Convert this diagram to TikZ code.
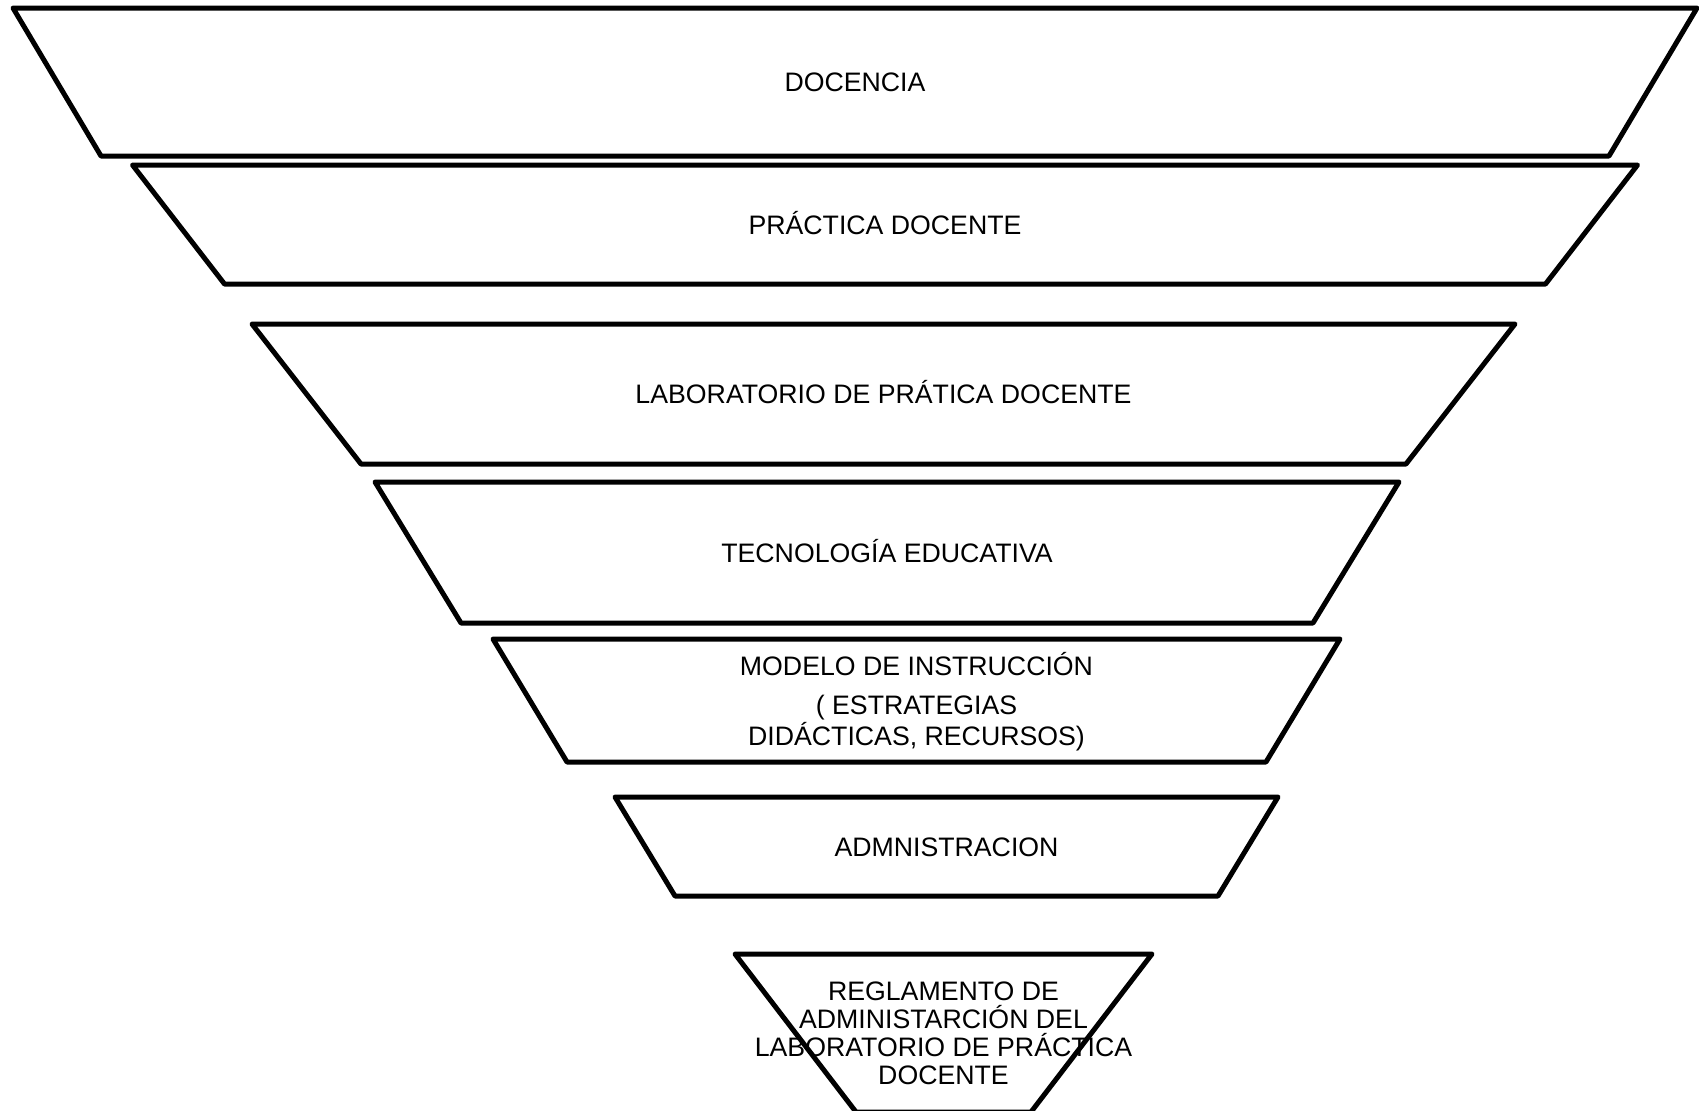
\documentclass[tikz,border=0pt]{standalone}
\usepackage{fontspec}
\setmainfont{Liberation Sans}
\begin{document}
\begin{tikzpicture}[x=0.5pt, y=-0.5pt,
  level/.style={line width=2.5pt, line join=round},
  lbl/.style={align=center, inner sep=0pt, font=\fontsize{13.35}{14}\selectfont},
  oneline/.style={lbl, text height=9.6pt, text depth=0pt}]
  \useasboundingbox (0,0) rectangle (1699,1110);

  % funnel levels: centre x / top y / bottom y / half width at top / half width at bottom / name
  \foreach \cx/\ty/\by/\tw/\bw/\nm in {
      855/8/156/842/754/docencia,
      885/165/284/752.5/660.5/practica,
      883.5/324/464/631.5/522.5/laboratorio,
      887/482/623/512/426/tecnologia,
      916.5/639/762/423.5/349.5/modelo,
      946.5/797/896/331.5/271.5/admin,
      943.5/954/1112/208.5/87.5/reglamento} {
    \draw[level] (\cx-\tw,\ty) -- (\cx+\tw,\ty) -- (\cx+\bw,\by) -- (\cx-\bw,\by) -- cycle;
    \coordinate (\nm) at (\cx,{(\ty+\by)/2});
  }

  \node[oneline] (docenciaText) at (docencia) {DOCENCIA};
  \node[oneline] (practicaText) at (practica) {PRÁCTICA DOCENTE};
  \node[oneline] (laboratorioText) at (laboratorio) {LABORATORIO DE PRÁTICA DOCENTE};
  \node[oneline] (tecnologiaText) at (tecnologia) {TECNOLOGÍA EDUCATIVA};
  \node[lbl, font=\fontsize{13.35}{10.3}\selectfont, yshift=-0.5pt] (modeloText) at (modelo)
    {MODELO DE INSTRUCCIÓN\\[9.5pt]( ESTRATEGIAS\\DIDÁCTICAS, RECURSOS)};
  \node[oneline] (adminText) at (admin) {ADMNISTRACION};
  \node[lbl] (reglamentoText) at (reglamento)
    {REGLAMENTO DE\\ADMINISTARCIÓN DEL\\LABORATORIO DE PRÁCTICA\\DOCENTE};
\end{tikzpicture}
\end{document}
